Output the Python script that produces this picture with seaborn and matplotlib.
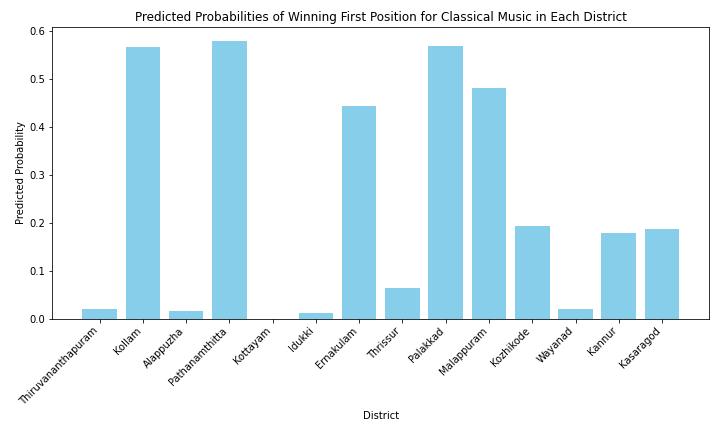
import matplotlib
matplotlib.use("Agg")
import matplotlib.pyplot as plt
import seaborn as sns
import pandas as pd

districts = ["Thiruvananthapuram", "Kollam", "Alappuzha", "Pathanamthitta", "Kottayam",
             "Idukki", "Ernakulam", "Thrissur", "Palakkad", "Malappuram", "Kozhikode",
             "Wayanad", "Kannur", "Kasaragod"]
probabilities = [0.019, 0.567, 0.015, 0.580, 0.0, 0.011, 0.444, 0.063, 0.569, 0.482,
                 0.194, 0.019, 0.178, 0.186]

df = pd.DataFrame({"District": districts, "Predicted Probability": probabilities})

fig, ax = plt.subplots(figsize=(10, 6), dpi=72)
sns.barplot(data=df, x="District", y="Predicted Probability", color="skyblue",
            saturation=1, width=0.8, ax=ax)
n = len(districts)
pad = (n - 1 + 0.8) * 0.05
ax.set_xlim(-0.4 - pad, n - 1 + 0.4 + pad)
ax.set_ylim(0, max(probabilities) * 1.05)
ax.set_title("Predicted Probabilities of Winning First Position for Classical Music in Each District")
ax.set_xlabel("District")
ax.set_ylabel("Predicted Probability")
plt.setp(ax.get_xticklabels(), rotation=45, ha="right")
plt.tight_layout()
fig.savefig("out.png", dpi=72)
